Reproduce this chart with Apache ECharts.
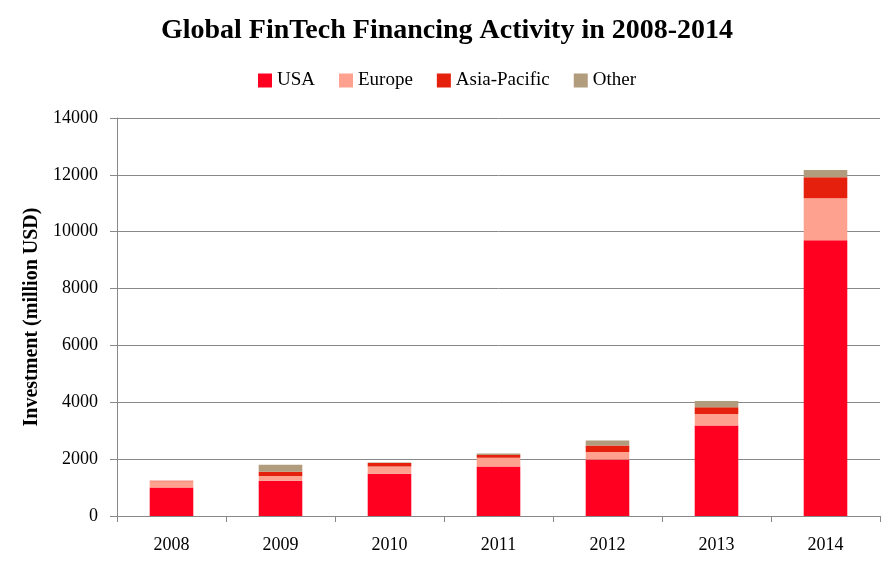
<!DOCTYPE html>
<html><head><meta charset="utf-8">
<script src="https://cdn.jsdelivr.net/npm/echarts@6/dist/echarts.min.js"></script>
<style>html,body{margin:0;padding:0;background:#fff}#c{width:894px;height:564px}</style>
</head><body><div id="c"></div>
<script>
const years = ['2008','2009','2010','2011','2012','2013','2014'];
const usa = [1000, 1240, 1490, 1740, 1990, 3180, 9700];
const europe = [220, 165, 255, 305, 260, 410, 1480];
const asiaPacific = [20, 150, 115, 105, 230, 235, 740];
const other = [0, 245, 20, 45, 175, 220, 255];
const yTicks = [0, 2000, 4000, 6000, 8000, 10000, 12000, 14000];

const FONT = '"Liberation Serif", "DejaVu Serif", serif';
const chart = echarts.init(document.getElementById('c'));
function s(name, data, color) {
  return {name, type:'bar', stack:'total', data, barWidth:'40%', itemStyle:{color}};
}
chart.setOption({
  animation:false,
  textStyle:{fontFamily:FONT},
  title:{text:'Global FinTech Financing Activity in 2008-2014', left:'center', top:12,
    textStyle:{fontFamily:FONT, fontSize:28, fontWeight:'bold', color:'#000'}},
  legend:{top:66, left:'center', itemWidth:14, itemHeight:14, itemGap:24,
    icon:'rect', textStyle:{fontFamily:FONT, fontSize:19, color:'#000'},
    data:['USA','Europe','Asia-Pacific','Other']},
  grid:{left:117, right:14, top:118, bottom:48},
  xAxis:{type:'category', data:years,
    axisLine:{lineStyle:{color:'#888'}},
    axisTick:{show:true, length:6, lineStyle:{color:'#888'}},
    axisLabel:{fontFamily:FONT, fontSize:18, color:'#000', margin:20}},
  yAxis:{type:'value', min:yTicks[0], max:yTicks[yTicks.length-1], interval:2000,
    name:'Investment (million USD)', nameLocation:'middle', nameGap:73,
    nameTextStyle:{fontFamily:FONT, fontSize:20, fontWeight:'bold', color:'#000'},
    axisLine:{show:true, lineStyle:{color:'#888'}},
    axisTick:{show:true, length:7, lineStyle:{color:'#888'}},
    splitLine:{lineStyle:{color:'#888'}},
    axisLabel:{fontFamily:FONT, fontSize:18, color:'#000', margin:19,
      formatter: v => String(v)}},
  series:[
    s('USA', usa, '#ff0021'),
    s('Europe', europe, '#ffa18f'),
    s('Asia-Pacific', asiaPacific, '#e5200c'),
    s('Other', other, '#b19c7d')
  ]
});
</script></body></html>
